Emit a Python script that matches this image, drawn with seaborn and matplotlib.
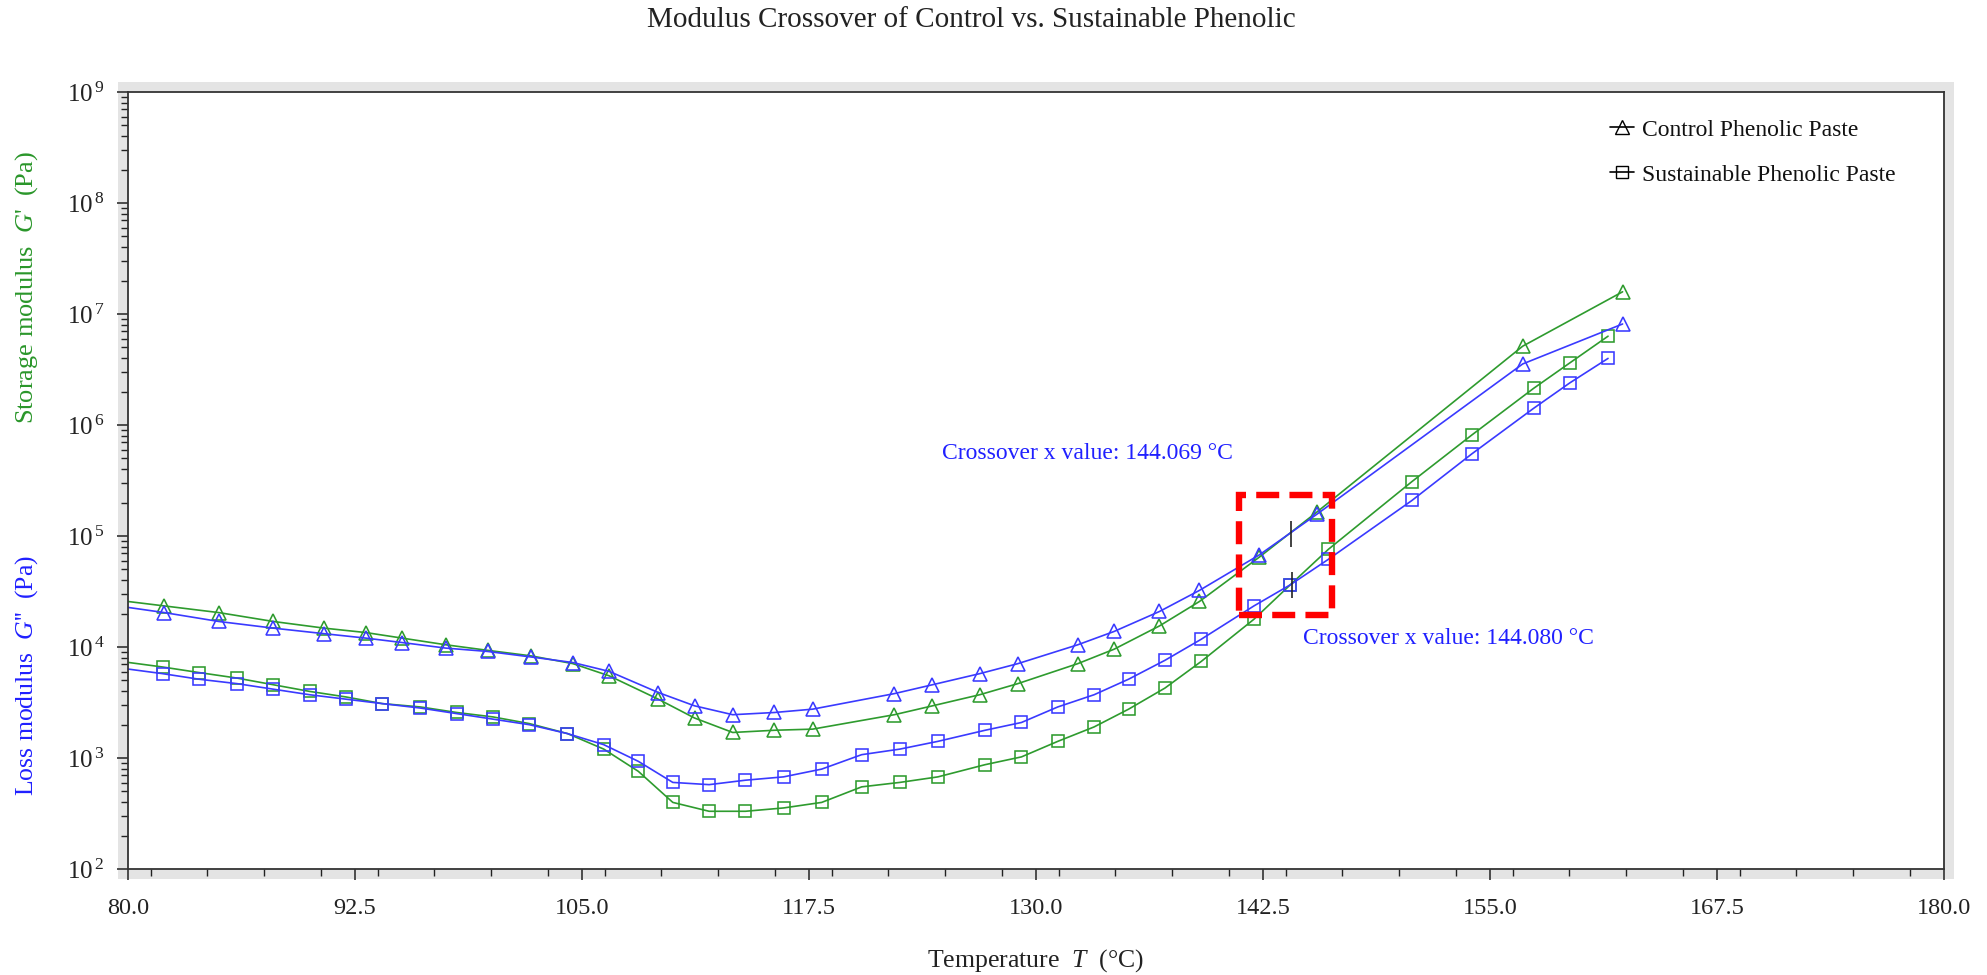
import numpy as np
import pandas as pd
import matplotlib
matplotlib.use("Agg")
import matplotlib.pyplot as plt
import matplotlib.ticker as mticker
from matplotlib.patches import Rectangle
from matplotlib.lines import Line2D
import seaborn as sns

# ---------------- data ----------------
series_names = ["Control Phenolic Paste", "Sustainable Phenolic Paste"]

temp_control = [79.0, 82.0, 85.0, 88.0, 90.8, 93.1, 95.1, 97.5, 99.8, 102.2, 104.5,
                106.5, 109.2, 111.2, 113.3, 115.6, 117.7, 122.2, 124.3, 126.9, 129.0,
                132.3, 134.3, 136.8, 139.0, 142.3, 145.5, 156.8, 162.3]
storage_control_log = [4.43, 4.37, 4.31, 4.23, 4.17, 4.13, 4.08, 4.02, 3.97, 3.92, 3.85,
                       3.74, 3.53, 3.36, 3.23, 3.25, 3.26, 3.39, 3.47, 3.57, 3.67,
                       3.85, 3.98, 4.19, 4.41, 4.81, 5.22, 6.71, 7.20]
loss_control_log = [4.38, 4.31, 4.23, 4.17, 4.12, 4.08, 4.04, 3.99, 3.96, 3.91, 3.86,
                    3.78, 3.59, 3.47, 3.39, 3.41, 3.44, 3.58, 3.66, 3.76, 3.85,
                    4.02, 4.14, 4.32, 4.51, 4.83, 5.20, 6.55, 6.91]

temp_sustainable = [79.6, 81.9, 83.9, 86.0, 88.0, 90.0, 92.0, 94.0, 96.1, 98.1, 100.1,
                    102.1, 104.2, 106.2, 108.1, 110.0, 112.0, 114.0, 116.1, 118.2, 120.4,
                    122.5, 124.6, 127.2, 129.2, 131.2, 133.2, 135.1, 137.1, 139.1, 142.0,
                    144.0, 146.1, 150.7, 154.0, 157.4, 159.4, 161.5]
storage_sustainable_log = [3.87, 3.82, 3.77, 3.72, 3.66, 3.60, 3.55, 3.49, 3.46, 3.41, 3.37,
                           3.31, 3.22, 3.08, 2.88, 2.60, 2.52, 2.52, 2.55, 2.60, 2.74,
                           2.78, 2.83, 2.94, 3.01, 3.15, 3.28, 3.44, 3.63, 3.87, 4.25,
                           4.56, 4.88, 5.49, 5.91, 6.33, 6.56, 6.80]
loss_sustainable_log = [3.81, 3.76, 3.71, 3.67, 3.62, 3.57, 3.53, 3.49, 3.45, 3.40, 3.35,
                        3.30, 3.22, 3.12, 2.97, 2.78, 2.76, 2.80, 2.83, 2.90, 3.03,
                        3.08, 3.15, 3.25, 3.32, 3.46, 3.57, 3.71, 3.88, 4.07, 4.37,
                        4.56, 4.79, 5.32, 5.74, 6.15, 6.38, 6.60]

crossover_temps = [144.069, 144.080]
crossover_moduli_log = [5.02, 4.56]
crossover_labels = ["Crossover x value: 144.069 \u00b0C", "Crossover x value: 144.080 \u00b0C"]
crossover_label_temps = [124.8, 144.7]
crossover_label_log = [5.74, 4.08]

highlight_temps = [141.2, 146.3]
highlight_log = [4.29, 5.37]

x_ticks = [80.0, 92.5, 105.0, 117.5, 130.0, 142.5, 155.0, 167.5, 180.0]

# ---------------- style ----------------
GREEN = "#2e9b2e"
BLUE = "#3a3aff"
TEXT_BLUE = "#2020ff"
TEXT_GREEN = "#2a962a"

sns.set_theme(style="ticks")
plt.rcParams["font.family"] = ["Liberation Serif", "DejaVu Serif"]
plt.rcParams["mathtext.fontset"] = "custom"
plt.rcParams["mathtext.rm"] = "Liberation Serif"
plt.rcParams["mathtext.it"] = "Liberation Serif:italic"
plt.rcParams["mathtext.bf"] = "Liberation Serif:bold"
plt.rcParams["axes.unicode_minus"] = False

W_PX, H_PX = 1987, 975
fig = plt.figure(figsize=(W_PX / 100, H_PX / 100), dpi=100)
fig.patch.set_facecolor("white")

ax_l, ax_r, ax_t, ax_b = 128, 1944, 92, 869
ax = fig.add_axes([ax_l / W_PX, 1 - ax_b / H_PX, (ax_r - ax_l) / W_PX, (ax_b - ax_t) / H_PX])
ax.set_facecolor("white")

# light grey shadow band around the plot frame
pad = 10
fig.add_artist(Rectangle(((ax_l - pad) / W_PX, 1 - (ax_b + pad) / H_PX),
                         (ax_r - ax_l + 2 * pad) / W_PX, (ax_b - ax_t + 2 * pad) / H_PX,
                         transform=fig.transFigure, facecolor="#e4e4e4",
                         edgecolor="none", zorder=-5))

ctrl = pd.DataFrame({"T": temp_control,
                     "Gp": np.power(10.0, storage_control_log),
                     "Gpp": np.power(10.0, loss_control_log)})
sust = pd.DataFrame({"T": temp_sustainable,
                     "Gp": np.power(10.0, storage_sustainable_log),
                     "Gpp": np.power(10.0, loss_sustainable_log)})

common = dict(ax=ax, sort=False, estimator=None, legend=False, linewidth=1.2,
              markerfacecolor="none", markeredgewidth=1.15)
sns.lineplot(data=sust, x="T", y="Gp", color=GREEN, marker="s", markersize=9,
             markeredgecolor=GREEN, **common)
sns.lineplot(data=sust, x="T", y="Gpp", color=BLUE, marker="s", markersize=9,
             markeredgecolor=BLUE, **common)
sns.lineplot(data=ctrl, x="T", y="Gp", color=GREEN, marker="^", markersize=10,
             markeredgecolor=GREEN, **common)
sns.lineplot(data=ctrl, x="T", y="Gpp", color=BLUE, marker="^", markersize=10,
             markeredgecolor=BLUE, **common)

# crossover markers
ax.plot(crossover_temps, np.power(10.0, crossover_moduli_log), linestyle="none",
        marker="|", markersize=19, markeredgewidth=1.2, color="#222222", zorder=5)

for t, lg, lab in zip(crossover_label_temps, crossover_label_log, crossover_labels):
    ax.text(t, 10 ** lg, lab, color=TEXT_BLUE, fontsize=17, ha="left", va="center")

# red dashed highlight box
hb = Rectangle((highlight_temps[0], 10 ** highlight_log[0]),
               highlight_temps[1] - highlight_temps[0],
               10 ** highlight_log[1] - 10 ** highlight_log[0],
               fill=False, edgecolor="#ff0000", linewidth=4.6,
               linestyle=(0, (3.6, 1.6)), zorder=6)
ax.add_patch(hb)

# axes
ax.set_xlim(80, 180)
ax.set_yscale("log")
ax.set_ylim(1e2, 1e9)
ax.xaxis.set_major_locator(mticker.FixedLocator(x_ticks))
ax.xaxis.set_major_formatter(mticker.FormatStrFormatter("%.1f"))
ax.xaxis.set_minor_locator(mticker.MultipleLocator(3.125))
ax.yaxis.set_major_locator(mticker.LogLocator(base=10, numticks=20))
ax.yaxis.set_major_formatter(mticker.FuncFormatter(
    lambda v, p: r"$\mathdefault{10^{\,%d}}$" % int(round(np.log10(v)))))
ax.yaxis.set_minor_locator(mticker.LogLocator(base=10, subs=np.arange(2, 10), numticks=20))
ax.yaxis.set_minor_formatter(mticker.NullFormatter())

ax.tick_params(axis="both", which="major", direction="out", length=8, width=1.1,
               colors="#222222", labelcolor="#222222")
ax.tick_params(axis="both", which="minor", direction="out", length=5, width=1.0,
               colors="#222222")
ax.tick_params(axis="x", which="major", pad=13, labelsize=17.5)
ax.tick_params(axis="y", which="major", pad=9, labelsize=18)
for s in ax.spines.values():
    s.set_visible(True)
    s.set_color("#333333")
    s.set_linewidth(1.3)

ax.set_xlabel("Temperature  $T$  (\u00b0C)", fontsize=18.5, color="#222222")
ax.xaxis.set_label_coords(0.5, -(961 - ax_b) / (ax_b - ax_t))
ax.xaxis.label.set_va("center")
ax.set_ylabel("")

fig.text(27 / W_PX, 1 - 288 / H_PX, "Storage modulus  $G$'  (Pa)", rotation=90,
         ha="center", va="center", fontsize=19, color=TEXT_GREEN)
fig.text(27 / W_PX, 1 - 675 / H_PX, "Loss modulus  $G$''  (Pa)", rotation=90,
         ha="center", va="center", fontsize=18.5, color=TEXT_BLUE)

fig.text(971 / W_PX, 1 - 20 / H_PX, "Modulus Crossover of Control vs. Sustainable Phenolic",
         ha="center", va="center", fontsize=21, color="#222222")

handles = [Line2D([], [], color="black", marker="^", markersize=10, markerfacecolor="none",
                  markeredgecolor="black", linewidth=1.2),
           Line2D([], [], color="black", marker="s", markersize=9, markerfacecolor="none",
                  markeredgecolor="black", linewidth=1.2)]
ax.legend(handles, series_names, loc="upper left",
          bbox_to_anchor=((1610 - ax_l) / (ax_r - ax_l), 1 - (119 - ax_t) / (ax_b - ax_t)),
          frameon=False, fontsize=17, handlelength=1.0, handletextpad=0.35,
          borderpad=0, borderaxespad=0, labelspacing=1.0, labelcolor="#111111")

fig.savefig("out.png", dpi=100, facecolor="white")
